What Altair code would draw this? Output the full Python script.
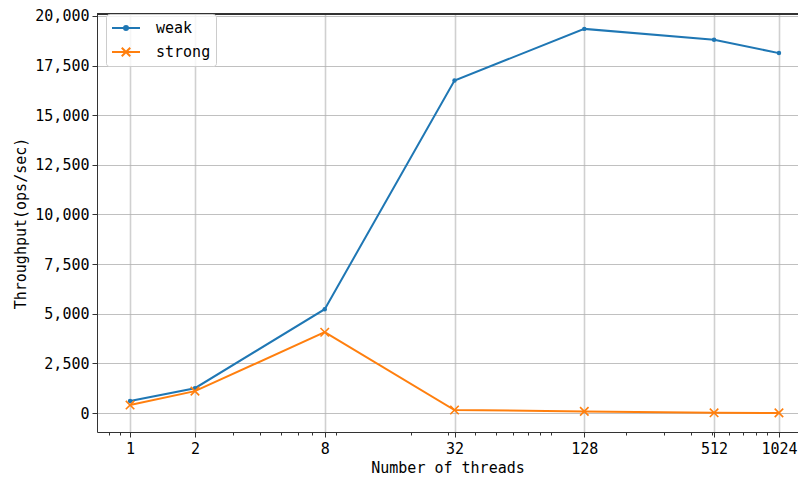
import altair as alt
import pandas as pd

threads = [1, 2, 8, 32, 128, 512, 1024]
weak = [600, 1250, 5230, 16750, 19350, 18800, 18130]
strong = [400, 1100, 4070, 150, 80, 10, 5]
series_names = ["weak", "strong"]
colors = ["#1f77b4", "#ff7f0e"]
major_ticks = [1, 2, 8, 32, 128, 512, 1024]
minor_ticks = [0.8, 0.9, 3, 4, 5, 6, 7, 9, 20, 30, 40, 50, 60, 70, 80, 90,
               200, 300, 400, 500, 600, 700, 800, 900]
y_ticks = [0, 2500, 5000, 7500, 10000, 12500, 15000, 17500, 20000]

rows = []
for t, w, s in zip(threads, weak, strong):
    rows.append({"threads": t, "value": w, "series": "weak"})
    rows.append({"threads": t, "value": s, "series": "strong"})
df = pd.DataFrame(rows)

W, H = 701, 418
FONT = "DejaVu Sans Mono"
major_test = "indexof([" + ",".join(str(v) for v in major_ticks) + "], datum.value) >= 0"

x_enc = alt.X(
    "threads:Q",
    scale=alt.Scale(type="log", base=2, domain=[0.7025, 1255], nice=False),
    axis=alt.Axis(
        values=sorted(major_ticks + minor_ticks),
        format="d",
        labelExpr=major_test + " ? datum.label : ''",
        labelOverlap=False,
        labelFlush=False,
        tickSize={"condition": {"test": major_test, "value": 5}, "value": 3},
        gridOpacity={"condition": {"test": major_test, "value": 1}, "value": 0},
        gridColor="#d0d0d0",
        gridWidth=1.6,
        title="Number of threads",
    ),
)
y_enc = alt.Y(
    "value:Q",
    scale=alt.Scale(domain=[-957, 20100], nice=False, zero=False),
    axis=alt.Axis(values=y_ticks, format=",d", title="Throughput(ops/sec)",
                  gridColor="#b0b0b0", gridWidth=0.8, tickSize=5,
                  titlePadding=6),
)
color_scale = alt.Scale(domain=series_names, range=colors)

dot_path = ("M0.25,0A0.25,0.25 0 1,1 -0.25,0A0.25,0.25 0 1,1 0.25,0"
            "M0.125,0A0.125,0.125 0 1,1 -0.125,0A0.125,0.125 0 1,1 0.125,0"
            "M0.04,0A0.04,0.04 0 1,1 -0.04,0A0.04,0.04 0 1,1 0.04,0")
leg_weak = "M-1.75,0H1.75" + dot_path
leg_strong = "M-1.75,0H1.75M-0.53,-0.53L0.53,0.53M-0.53,0.53L0.53,-0.53"

legend = alt.Legend(
    title=None, orient="none", legendX=9, legendY=0,
    padding=5, fillColor="rgba(255,255,255,0.8)", strokeColor="#cccccc",
    cornerRadius=3, labelFont=FONT, labelFontSize=15, labelColor="#000000",
    symbolSize=256, symbolOffset=6, labelOffset=21, rowPadding=7,
    symbolStrokeWidth=2, symbolOpacity=1,
)

base = alt.Chart(df)

top_spine = base.mark_rule(color="#333333", strokeWidth=1).encode(
    x=alt.value(0), x2=alt.value(W), y=alt.value(0)
)

lines = base.mark_line(strokeWidth=2).encode(
    x=x_enc, y=y_enc,
    color=alt.Color("series:N", scale=color_scale, legend=None),
    detail="series:N",
)

weak_pts = base.transform_filter(alt.datum.series == "weak").mark_point(
    shape="circle", filled=True, size=20, opacity=1
).encode(x=x_enc, y=y_enc,
         color=alt.Color("series:N", scale=color_scale, legend=None))

strong_pts = base.transform_filter(alt.datum.series == "strong").mark_point(
    shape="M-1,-1L1,1M-1,1L1,-1", filled=False, size=72, strokeWidth=1.6, opacity=1
).encode(x=x_enc, y=y_enc,
         color=alt.Color("series:N", scale=color_scale, legend=None))

legend_layer = base.mark_point(
    filled=False, opacity=0, strokeWidth=2
).encode(
    x=x_enc, y=y_enc,
    color=alt.Color("series:N", scale=color_scale, legend=legend),
    shape=alt.Shape("series:N",
                    scale=alt.Scale(domain=series_names, range=[leg_weak, leg_strong]),
                    legend=legend),
)

chart = alt.layer(top_spine, lines, weak_pts, strong_pts, legend_layer).resolve_scale(
    color="independent", shape="independent"
).properties(
    width=W, height=H,
    autosize=alt.AutoSizeParams(type="none"),
    padding={"left": 89, "top": 6, "right": 0, "bottom": 44},
).configure_view(stroke=None).configure_axis(
    labelFont=FONT, titleFont=FONT, labelFontSize=15, titleFontSize=15,
    titleFontWeight="normal", labelColor="#000000", titleColor="#000000",
    domainColor="#333333", domainWidth=1, tickColor="#333333", tickWidth=1,
    labelPadding=3,
).configure_axisX(titlePadding=4, labelPadding=4)

chart.save("out.html", embed_options={"renderer": "svg", "actions": False})
